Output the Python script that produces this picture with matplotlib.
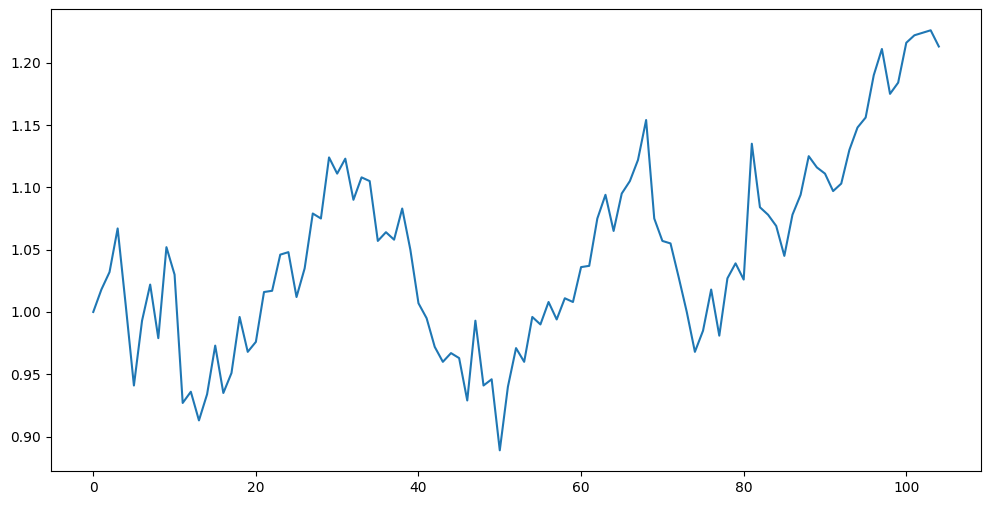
import matplotlib
matplotlib.use("Agg")
from matplotlib import pyplot as plt

# values, one per step 0..104
values = [
  1.000, 1.018, 1.032, 1.067, 1.005, 0.941, 0.993, 1.022, 0.979, 1.052,
  1.030, 0.927, 0.936, 0.913, 0.934, 0.973, 0.935, 0.951, 0.996, 0.968,
  0.976, 1.016, 1.017, 1.046, 1.048, 1.012, 1.035, 1.079, 1.075, 1.124,
  1.111, 1.123, 1.090, 1.108, 1.105, 1.057, 1.064, 1.058, 1.083, 1.050,
  1.007, 0.995, 0.972, 0.960, 0.967, 0.963, 0.929, 0.993, 0.941, 0.946,
  0.889, 0.940, 0.971, 0.960, 0.996, 0.990, 1.008, 0.994, 1.011, 1.008,
  1.036, 1.037, 1.075, 1.094, 1.065, 1.095, 1.105, 1.122, 1.154, 1.075,
  1.057, 1.055, 1.028, 1.000, 0.968, 0.985, 1.018, 0.981, 1.027, 1.039,
  1.026, 1.135, 1.084, 1.078, 1.069, 1.045, 1.078, 1.094, 1.125, 1.116,
  1.111, 1.097, 1.103, 1.130, 1.148, 1.156, 1.190, 1.211, 1.175, 1.184,
  1.216, 1.222, 1.224, 1.226, 1.213,
]
steps = list(range(len(values)))

fig, ax = plt.subplots(figsize=(9.9, 5.05), dpi=100)
fig.subplots_adjust(left=0.0515, right=0.991, top=0.9816, bottom=0.0667)
ax.plot(steps, values)
fig.savefig("out.png")
